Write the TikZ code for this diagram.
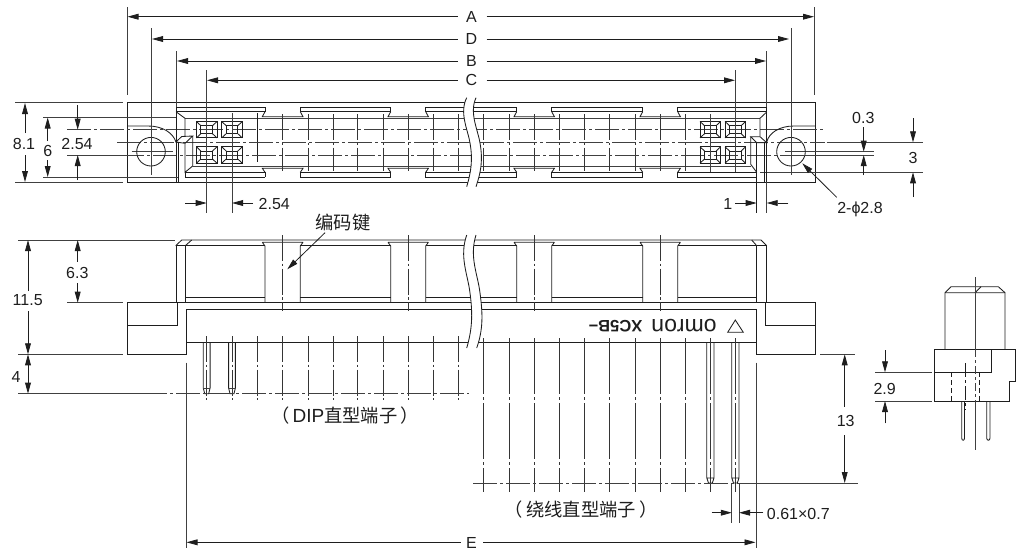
\documentclass[tikz,border=0pt]{standalone}
\usepackage{fontspec}
\setmainfont{Liberation Sans}
\newfontfamily\cjkf{Noto Sans CJK SC}
\usetikzlibrary{arrows.meta}
\definecolor{ink}{HTML}{1E1E1E}
\tikzset{
  part/.style={draw=ink,line width=0.85pt,line join=miter},
  thin line/.style={draw=ink!85,line width=0.8pt},
  centre/.style={draw=ink!85,line width=0.75pt,dash pattern=on 24pt off 3pt on 3pt off 3pt},
  centrev/.style={draw=ink!90,line width=0.75pt,dash pattern=on 26pt off 2.5pt on 2.5pt off 2.5pt},
  longv/.style={draw=ink!90,line width=0.75pt,dash pattern=on 56pt off 3pt on 3pt off 3pt},
  dim/.style={draw=ink,line width=0.8pt,-{Triangle[length=11pt,width=5.8pt]}},
  dimb/.style={draw=ink,line width=0.8pt,{Triangle[length=11pt,width=5.8pt]}-{Triangle[length=11pt,width=5.8pt]}},
  lbl/.style={text=ink,inner sep=0pt,font=\fontsize{16}{17}\selectfont},
  cjk/.style={text=ink,inner sep=0pt,font=\fontsize{18.3}{20}\selectfont\cjkf},
}
\newcommand{\mycell}[2]{%
  \draw[part] (#1-10.3,#2-8.2) rectangle (#1+10.3,#2+8.2);
  \draw[part] (#1-5.8,#2-4) rectangle (#1+5.8,#2+4);
  \draw[part] (#1-10.3,#2-8.2)--(#1-5.8,#2-4) (#1+10.3,#2-8.2)--(#1+5.8,#2-4)
              (#1-10.3,#2+8.2)--(#1-5.8,#2+4) (#1+10.3,#2+8.2)--(#1+5.8,#2+4);
}
\newcommand{\mypillar}[2]{%
  \draw[part] (#1-2.7,242.3)--(#2+2.7,242.3) (#1-2.7,242.3)--(#1,246)--(#1,302.7)
              (#2+2.7,242.3)--(#2,246)--(#2,302.7);
}
\begin{document}
\begin{tikzpicture}[x=1pt,y=-1pt]
\useasboundingbox (0,0) rectangle (1019,550);

% ---------- top view ----------
\draw[part] (127.5,102.7) rectangle (815.7,182.3);
% blocks on top and bottom rows
\foreach \a/\b in {176/265,300.3/390.7,425.7/516.7,551.7/642.7,677.7/766.7}{
  \draw[part] (\a,111.7)--(\a,107.5)--(\b,107.5)--(\b,111.7) (\a,111.7)--(\b,111.7);
}
\foreach \a/\b in {185/265,300.3/390.7,425.7/516.7,551.7/642.7,677.7/756.7}{
  \draw[part] (\a,172.3)--(\a,177.4)--(\b,177.4) (\a,172.3)--(\b,172.3);
}
\draw[part] (265,172.3)--(265,177.4) (300.3,172.3)--(300.3,177.4) (390.7,172.3)--(390.7,177.4) (425.7,172.3)--(425.7,177.4) (516.7,172.3)--(516.7,177.4) (551.7,172.3)--(551.7,177.4) (642.7,172.3)--(642.7,177.4) (677.7,172.3)--(677.7,177.4);
\foreach \a/\b in {265/300.3,390.7/425.7,516.7/551.7,642.7/677.7}{
  \draw[part] (\a,111.7)--(\a-2.7,116.7)--(\b+2.7,116.7)--(\b,111.7);
  \draw[part] (\a,172.3)--(\a-2.7,168.3)--(\b+2.7,168.3)--(\b,172.3);
}
\draw[thin line] (185,118.3)--(760,118.3) (192.7,166)--(750.7,166);
% centre lines of the top view
\foreach \x in {282.7,308,333,357.7,383,408.3,433.7,458.7,483.7,509,534,559.3,584.5,609.7,635,660,685}{
  \draw[centrev] (\x,114)--(\x,171);
}
\draw[part] (257.3,113.3)--(257.3,161.7);
\draw[centre] (67,129.7)--(825,129.7);
\draw[centre] (117,142.3)--(825,142.3);
\draw[thin line] (67,155)--(120,155);
\draw[centre] (120,155)--(825,155);
\draw[thin line] (826.7,142.3)--(923,142.3);
\draw[thin line] (760,172.3)--(923,172.3);
\draw[thin line] (785,151.7)--(874,151.7) (805,155)--(874,155);
\draw[thin line] (131.7,151.7)--(173,151.7);
% left end
\draw[part] (127.5,126)--(148,126) .. controls (163,126) and (173,133) .. (176,142);
\draw[part] (176,111.7)--(176,182.3) (178,142)--(178,182.3);
\draw[part] (176,111.7)--(185,118.3)--(185,136);
\draw[part] (176,142)--(181.7,136.5)--(192.7,136)--(185,143.3)--cycle;
\draw[part] (192.7,136)--(192.7,166)--(185,172.3)--(185,143.3);
% right end
\draw[part] (815.7,126)--(794,126) .. controls (779,126) and (769,133) .. (766.7,142);
\draw[part] (766.7,107.5)--(766.7,182.3) (764.8,142)--(764.8,182.3);
\draw[part] (766.7,112)--(760,118.3)--(760,136.7);
\draw[part] (750.7,136.7)--(760,136.7)--(766.7,142.7)--(756.7,142.7)--cycle;
\draw[part] (750.7,136.7)--(750.7,164.3)--(756.7,172.3);
\draw[part] (756.7,142.7)--(756.7,213);
% holes
\draw[part] (151,151.7) circle[radius=14.3pt];
\draw[part] (791,151.7) circle[radius=14.3pt];
\draw[thin line] (148.5,151.7)--(153.5,151.7) (788.5,151.7)--(793.5,151.7);
% cells
\foreach \x in {206.7,232,710.3,735.3}{ \mycell{\x}{129.7} \mycell{\x}{155} }
% break
\fill[white] (466.7,97.7) .. controls (459,113) and (468,130) .. (470,143) .. controls (473,160) and (471,172) .. (466.7,186.7)
  -- (476,186.7) .. controls (481,172) and (483,160) .. (480,143) .. controls (478,130) and (469,113) .. (476,97.7) -- cycle;
\draw[part] (466.7,97.7) .. controls (459,113) and (468,130) .. (470,143) .. controls (473,160) and (471,172) .. (466.7,186.7);
\draw[part] (476,97.7) .. controls (469,113) and (478,130) .. (480,143) .. controls (483,160) and (481,172) .. (476,186.7);

% dimension extension lines, top
\draw[thin line] (127,7)--(127,95) (814.3,7)--(814.3,95);
\draw[thin line] (151,28)--(151,175) (791,28)--(791,175);
\draw[thin line] (176,51)--(176,107) (766.7,51)--(766.7,107);
\draw[thin line] (206.7,70)--(206.7,172) (206.7,172)--(206.7,213) (232,113)--(232,213);
\draw[thin line] (735.3,70)--(735.3,172) (710.3,114)--(710.3,172);
\draw[thin line] (766.7,182)--(766.7,213);
\draw[thin line] (15,102.7)--(123,102.7) (15,182.3)--(123,182.3);
\draw[thin line] (43,117.4)--(176,117.4) (43,177.3)--(178,177.3);
\draw[thin line] (151,136)--(151,167);

% A D B C
\foreach \n/\t/\y/\l/\r in {a/A/16.7/127.5/814,d/D/39/152/789,b/B/61/177/766,c/C/80.3/207/735}{
  \node[lbl] (lab\n) at (471.5,\y) {\t};
  \draw[dim] (457.7,\y)--(\l,\y);
  \draw[dim] (486.7,\y)--(\r,\y);
}
% left dims
\node[lbl] (d81) at (24,144) {8.1};
\draw[dim] (25,133)--(25,103);
\draw[dim] (25,155)--(25,182);
\node[lbl] (d6) at (47.7,151) {6};
\draw[dim] (47.7,141)--(47.7,117.5);
\draw[dim] (47.7,160)--(47.7,177);
\node[lbl] (d254a) at (77,144.3) {2.54};
\draw[dim] (77.7,105)--(77.7,129.7);
\draw[dim] (77.7,180)--(77.7,155);
\node[lbl] (d254b) at (274.3,204.3) {2.54};
\draw[dim] (185,203)--(206.7,203);
\draw[dim] (253,203)--(232,203);
\node[lbl] (d1) at (727.7,204.3) {1};
\draw[dim] (735,203)--(756.7,203);
\draw[dim] (788.3,203)--(766.7,203);
\node[lbl] (d03) at (863.3,117.7) {0.3};
\draw[dim] (863.7,127)--(863.7,151.7);
\draw[dim] (863.7,175)--(863.7,155);
\node[lbl] (d3) at (913,158) {3};
\draw[dim] (913,118)--(913,142.3);
\draw[dim] (913,197)--(913,172.3);
\node[lbl] (dphi) at (860,209.7) {2-ϕ2.8};
\draw[dim] (836.7,197.3)--(802.3,163.3);

% ---------- front view ----------
\draw[part] (175.7,245.7)--(181.7,240)--(761,240)--(766.7,245.7);
\draw[part] (185.3,245.7)--(191.7,240) (751.7,240)--(756.7,245.7);
\draw[part] (176,245.7)--(185.3,245.7)--(265,245.7) (300.3,245.7)--(390.7,245.7) (425.7,245.7)--(516.7,245.7) (551.7,245.7)--(642.7,245.7) (677.7,245.7)--(766.7,245.7);
\draw[part] (185.3,297.7)--(265,297.7) (300.3,297.7)--(390.7,297.7) (425.7,297.7)--(516.7,297.7) (551.7,297.7)--(642.7,297.7) (677.7,297.7)--(756.7,297.7);
\foreach \a/\b in {265/300.3,390.7/425.7,516.7/551.7,642.7/677.7}{ \mypillar{\a}{\b} }
\draw[part] (176,245.7)--(176,302.7) (185.3,245.7)--(185.3,302.7);
\draw[part] (756.7,245.7)--(756.7,302.7) (766.7,245.7)--(766.7,302.7);
\draw[part] (127.5,302.7)--(815.7,302.7)--(815.7,354.3)--(756,354.3)--(756,309.3)--(186,309.3)--(186,354.3)--(127.5,354.3)--cycle;
\draw[part] (127.5,325.3)--(177.7,325.3)--(177.7,302.7);
\draw[part] (765.3,302.7)--(765.3,325.3)--(815.7,325.3);
\draw[part] (186,342.7)--(756,342.7);
% pillar centre lines
\foreach \x in {282.7,408.3,534,660}{ \draw[centrev] (\x,235)--(\x,311); }
% DIP pins
\foreach \x in {206.7,232}{
  \draw[part] (\x-3.4,342.7)--(\x-3.4,388)--(\x-2,393.7)--(\x+2,393.7)--(\x+3.4,388)--(\x+3.4,342.7);
  \draw[thin line] (\x-3.4,388)--(\x+3.4,388);
}
\foreach \x in {206.7,232,257.3,282.7,308,333,357.7,383,408.3,433.7,458.7}{
  \draw[centrev] (\x,336)--(\x,400);
}
% wire-wrap terminals
\foreach \x in {483.7,509,534,559.3,584.5,609.7,635,660,685}{
  \draw[longv] (\x,338)--(\x,491.7);
}
\foreach \x in {710.3,735.3}{ \draw[longv] (\x,338)--(\x,491.7); }
\draw[part] (706.8,342.7)--(706.8,478)--(708.5,483)--(712.3,483)--(714,478)--(714,342.7) (706.8,478)--(714,478);
\draw[part] (731.8,342.7)--(731.8,478)--(733.5,483)--(737.3,483)--(739,478)--(739,342.7) (731.8,478)--(739,478);
% base line of the pins
\draw[thin line] (18,393.7)--(143,393.7);
\draw[centre] (143,393.7)--(469,393.7);
\draw[centre] (473,483)--(755,483);
\draw[thin line] (755,483)--(858,483);
% break
\fill[white] (466.7,235) .. controls (459,257) and (468,275) .. (470,293) .. controls (473,315) and (472,330) .. (466.7,348)
  -- (476.7,348) .. controls (483,330) and (483,315) .. (480,293) .. controls (478,275) and (469,257) .. (476,235) -- cycle;
\draw[part] (466.7,235) .. controls (459,257) and (468,275) .. (470,293) .. controls (473,315) and (472,330) .. (466.7,348);
\draw[part] (476,235) .. controls (469,257) and (478,275) .. (480,293) .. controls (483,315) and (483,330) .. (476.7,348);
% marking
\node[text=ink,inner sep=0pt,font=\fontsize{16.5}{17}\bfseries,rotate=180] (logoa) at (615.5,326.2) {XC5B−};
\node[text=ink,inner sep=0pt,font=\fontsize{23}{24}\selectfont,rotate=180] (logob) at (684,326) {omron};
\draw[part] (735.3,320)--(743.3,332.3)--(727.7,332.3)--cycle;

% extension lines, front view
\draw[thin line] (18,240)--(175,240) (18,354.3)--(123,354.3) (67,302.7)--(123,302.7);
\draw[thin line] (186,362.7)--(186,548) (756,362.7)--(756,548);
\draw[thin line] (820,354.3)--(855,354.3);
\draw[thin line] (731.8,483)--(731.8,522.7) (739,483)--(739,522.7);
% dims
\node[lbl] (d115) at (27.7,299.7) {11.5};
\draw[dim] (28,291)--(28,240);
\draw[dim] (28,311)--(28,354.3);
\node[lbl] (d4) at (16,376.7) {4};
\draw[dimb] (28,354.3)--(28,393.7);
\node[lbl] (d63) at (77.3,273.3) {6.3};
\draw[dim] (77.7,261.7)--(77.7,240);
\draw[dim] (77.7,283.3)--(77.7,302.7);
\node[lbl] (d13) at (845.7,420.7) {13};
\draw[dim] (844.7,406.7)--(844.7,354.3);
\draw[dim] (844.7,435)--(844.7,483);
\node[lbl] (dpin) at (798.3,514.3) {0.61×0.7};
\draw[dim] (711.7,512.7)--(731.8,512.7);
\draw[dim] (763.3,512.7)--(739,512.7);
\node[lbl] (de) at (471.5,542.5) {E};
\draw[dim] (460.7,542.3)--(186.5,542.3);
\draw[dim] (483.3,542.3)--(755.5,542.3);
% Chinese labels
\node[cjk] (key) at (343,222.3) {编码键};
\draw[dim] (325,232.7)--(287.3,269.3);
\node[cjk] (dip) at (345,416) {（\hspace{3pt}{\rmfamily\fontsize{19}{20}\selectfont DIP}直型端子\hspace{3pt}）};
\node[cjk] (wrap) at (581,509.3) {（\hspace{3.5pt}绕线直型端子\hspace{3.5pt}）};

% ---------- side view ----------
\draw[part] (945,349.3)--(945,292.7)--(951,286.7)--(998.3,286.7)--(1005,292.7)--(1005,349.3);
\draw[part] (945,292.7)--(1005,292.7) (975,292.7)--(981,286.7);
\draw[part] (934.3,349.3)--(1015.7,349.3)--(1015.7,381.7)--(1009,381.7)--(1009,401)--(934.3,401)--cycle;
\draw[part] (991.7,349.3)--(991.7,372.3)--(934.3,372.3);
\draw[thin line] (975,277)--(975,349.3);
\draw[thin line,dash pattern=on 8pt off 3pt on 3pt off 3pt] (975,349.3)--(975,401);
\draw[thin line] (975,401)--(975,450);
\draw[part,dash pattern=on 5pt off 3pt] (951.7,372.3)--(951.7,401) (979.3,372.3)--(979.3,401);
\draw[part,dash pattern=on 14pt off 3pt on 3pt off 3pt] (965.7,363)--(965.7,410);
\draw[part] (961.7,401)--(961.7,438) .. controls (961.7,441) and (964.5,441) .. (964.5,438)--(964.5,401);
\draw[part] (986.7,401)--(986.7,438) .. controls (986.7,441) and (990,441) .. (990,438)--(990,401);
\draw[thin line] (875,372.3)--(931.7,372.3) (875,401)--(931.7,401);
\node[lbl] (d29) at (884.7,389) {2.9};
\draw[dim] (885,350)--(885,372.3);
\draw[dim] (885,423.3)--(885,401);
\end{tikzpicture}
\end{document}
